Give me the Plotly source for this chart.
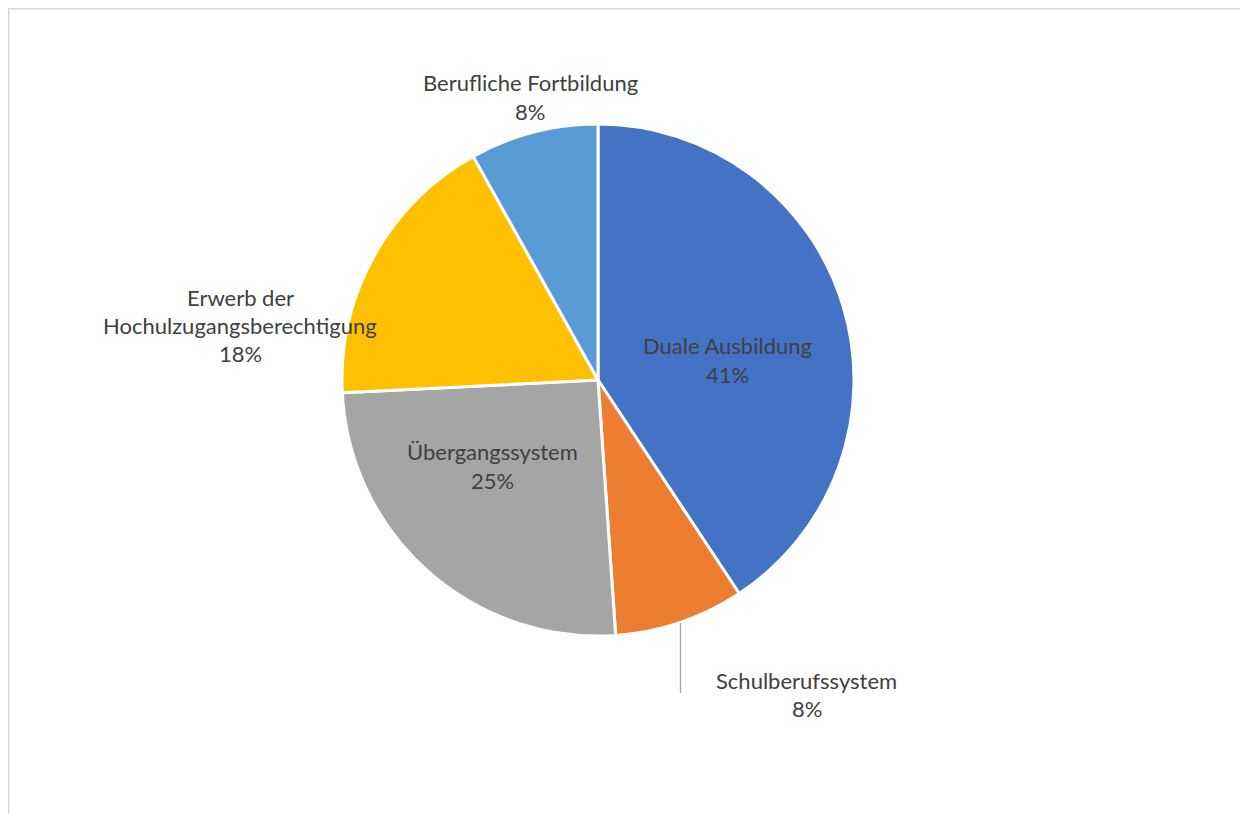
import plotly.graph_objects as go

# Data
labels = ["Duale Ausbildung", "Schulberufssystem", "Übergangssystem",
          "Erwerb der Hochulzugangsberechtigung", "Berufliche Fortbildung"]
values = [40.7, 8.2, 25.3, 17.7, 8.1]
colors = ["#4472C4", "#ED7D31", "#A5A5A5", "#FFC000", "#5B9BD5"]

W, H = 1248, 814
OFF = 8  # page body margin offset
CX, CY, R = 598 - OFF, 380 - OFF, 256

def px(x):
    return x / W

def py(y):
    return 1 - y / H

fig = go.Figure(go.Pie(
    labels=labels, values=values, sort=False, direction="clockwise",
    rotation=0, marker=dict(colors=colors, line=dict(color="white", width=3)),
    textinfo="none", hoverinfo="label+percent", showlegend=False,
    domain=dict(x=[px(CX - R), px(CX + R)], y=[py(CY + R), py(CY - R)]),
))

total = sum(values)
pcts = [f"{round(v / total * 100)}%" for v in values]

label_lines = [
    ["Duale Ausbildung", pcts[0]],
    ["Schulberufssystem", pcts[1]],
    ["Übergangssystem", pcts[2]],
    ["Erwerb der", "Hochulzugangsberechtigung", pcts[3]],
    ["Berufliche Fortbildung", pcts[4]],
]
anchors = [(728, 346), (807, 680), (492, 452), (240, 297), (530, 83)]
LS = 28.3
font = dict(family="Lato, Carlito, sans-serif", size=22, color="#404040")
for lines, (ax, ay) in zip(label_lines, anchors):
    for i, t in enumerate(lines):
        fig.add_annotation(x=px(ax - OFF), y=py(ay - OFF + i * LS), xref="paper", yref="paper",
                           text=t, showarrow=False, xanchor="center", yanchor="middle",
                           font=font)

# leader line for Schulberufssystem
fig.add_shape(type="line", xref="paper", yref="paper",
              x0=px(680.5 - OFF), x1=px(680.5 - OFF), y0=py(623 - OFF), y1=py(693 - OFF),
              line=dict(color="#A6A6A6", width=1.3))

# chart border (top and left visible)
fig.add_shape(type="rect", xref="paper", yref="paper",
              x0=px(0.5), x1=px(W + 20), y0=py(H + 20), y1=py(0.5),
              line=dict(color="#D9D9D9", width=2))

fig.update_layout(width=W, height=H, margin=dict(l=0, r=0, t=0, b=0),
                  paper_bgcolor="white", plot_bgcolor="white")
fig.write_html("out.html")
